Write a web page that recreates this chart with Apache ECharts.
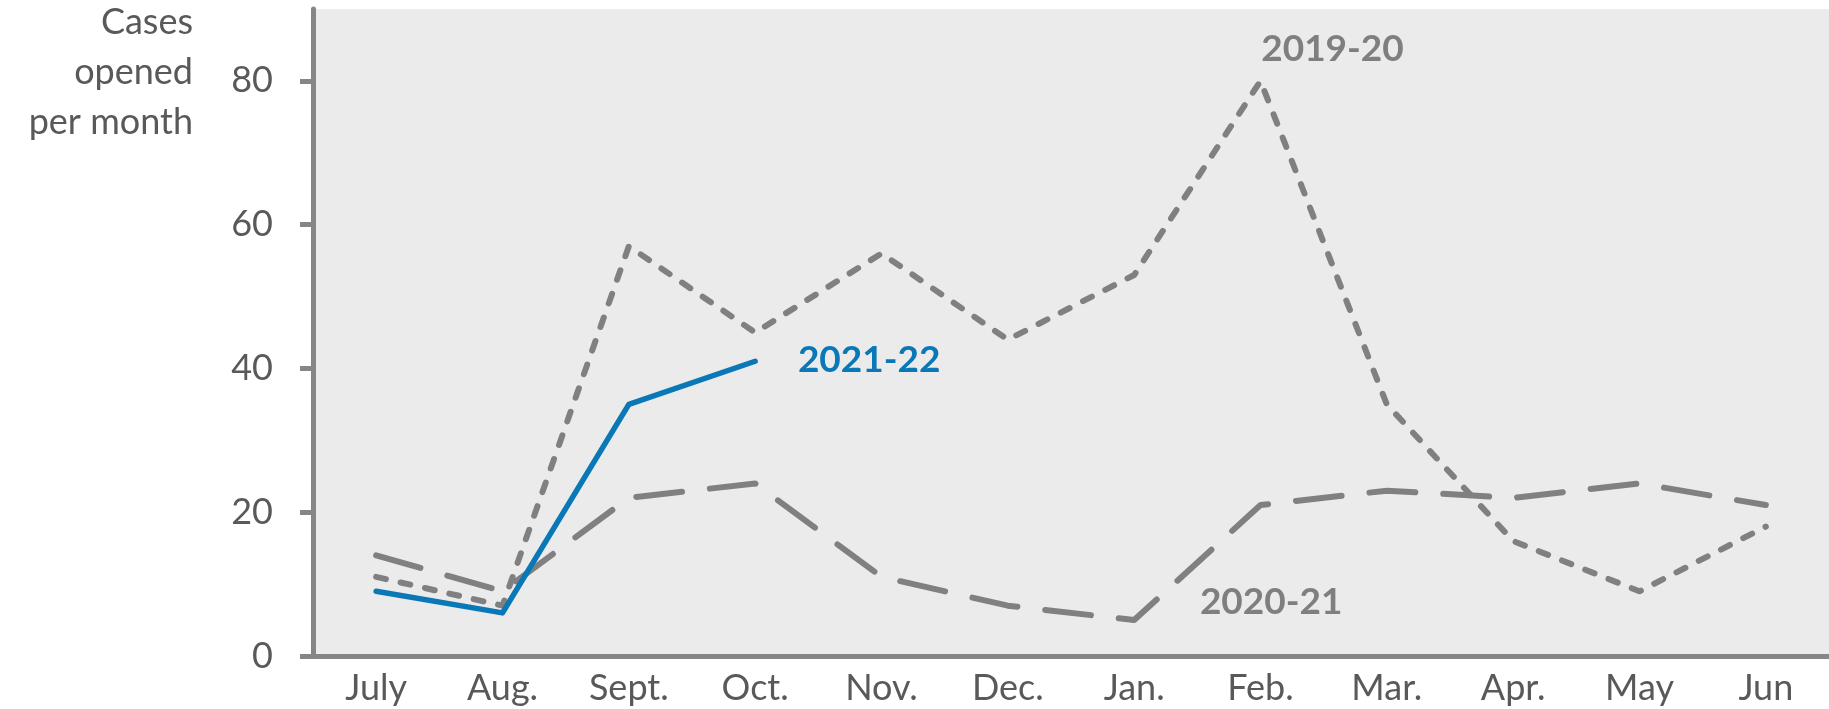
<!DOCTYPE html>
<html>
<head>
<meta charset="utf-8">
<script src="https://cdn.jsdelivr.net/npm/echarts@6/dist/echarts.min.js"></script>
<style>
html,body{margin:0;padding:0;background:#fff;}
#c{width:1829px;height:709px;}
</style>
</head>
<body>
<div id="c"></div>
<script>
const months = ['July','Aug.','Sept.','Oct.','Nov.','Dec.','Jan.','Feb.','Mar.','Apr.','May','Jun'];
const s2019 = [11, 7, 57, 45, 56, 44, 53, 80, 35, 16, 9, 18];
const s2020 = [14, 9, 22, 24, 11, 7, 5, 21, 23, 22, 24, 21];
const s2022 = [9, 6, 35, 41];
const yTicks = [0, 20, 40, 60, 80];

const gray = '#808080';
const blue = '#0a78b6';
const FONT = 'Lato, "Open Sans", sans-serif';

function withLabel(arr, idx, text, color, offset) {
  return arr.map((v, i) => {
    if (i !== idx) return v;
    return {
      value: v,
      symbol: 'circle',
      symbolSize: 1,
      itemStyle: { color: 'rgba(0,0,0,0)' },
      label: {
        show: true,
        position: 'inside',
        formatter: text,
        offset: offset,
        color: color,
        fontFamily: FONT,
        fontWeight: 'bold',
        fontSize: 37
      }
    };
  });
}

const chart = echarts.init(document.getElementById('c'));
chart.setOption({
  animation: false,
  backgroundColor: '#ffffff',
  grid: {
    left: 313, right: -17, top: 9, bottom: 53,
    show: true, backgroundColor: '#ebebeb', borderWidth: 0
  },
  graphic: [{
    type: 'text',
    x: 193, y: -3,
    style: {
      text: 'Cases\nopened\nper month',
      fill: '#595959',
      font: '36px Lato, "Open Sans", sans-serif',
      lineHeight: 50,
      align: 'right',
      verticalAlign: 'top'
    }
  }],
  xAxis: {
    type: 'category',
    data: months,
    boundaryGap: true,
    axisLine: { show: true, lineStyle: { color: '#868686', width: 5 } },
    axisTick: { show: false },
    axisLabel: { color: '#595959', fontFamily: FONT, fontSize: 36, margin: 14 },
    splitLine: { show: false }
  },
  yAxis: {
    type: 'value',
    min: 0, max: 90,
    axisLine: { show: true, lineStyle: { color: '#868686', width: 5 } },
    axisTick: { show: true, length: 13, lineStyle: { color: '#868686', width: 5 }, customValues: yTicks },
    axisLabel: { color: '#595959', fontFamily: FONT, fontSize: 36, margin: 40, customValues: yTicks },
    splitLine: { show: false }
  },
  series: [
    {
      name: '2019-20', type: 'line', symbol: 'none', showSymbol: true,
      data: withLabel(s2019, 7, '2019-20', '#7f7f7f', [72, -32]),
      lineStyle: { color: gray, width: 6, type: [10, 15], cap: 'round', join: 'round' },
      z: 2
    },
    {
      name: '2020-21', type: 'line', symbol: 'none', showSymbol: true,
      data: withLabel(s2020, 6, '2020-21', '#7f7f7f', [137, -18]),
      lineStyle: { color: gray, width: 6, type: [46, 28], cap: 'round', join: 'round' },
      z: 2
    },
    {
      name: '2021-22', type: 'line', symbol: 'none', showSymbol: true,
      data: withLabel(s2022, 3, '2021-22', blue, [114, -1]),
      lineStyle: { color: blue, width: 5.5, type: 'solid', cap: 'round', join: 'round' },
      z: 3
    }
  ]
});
</script>
</body>
</html>
